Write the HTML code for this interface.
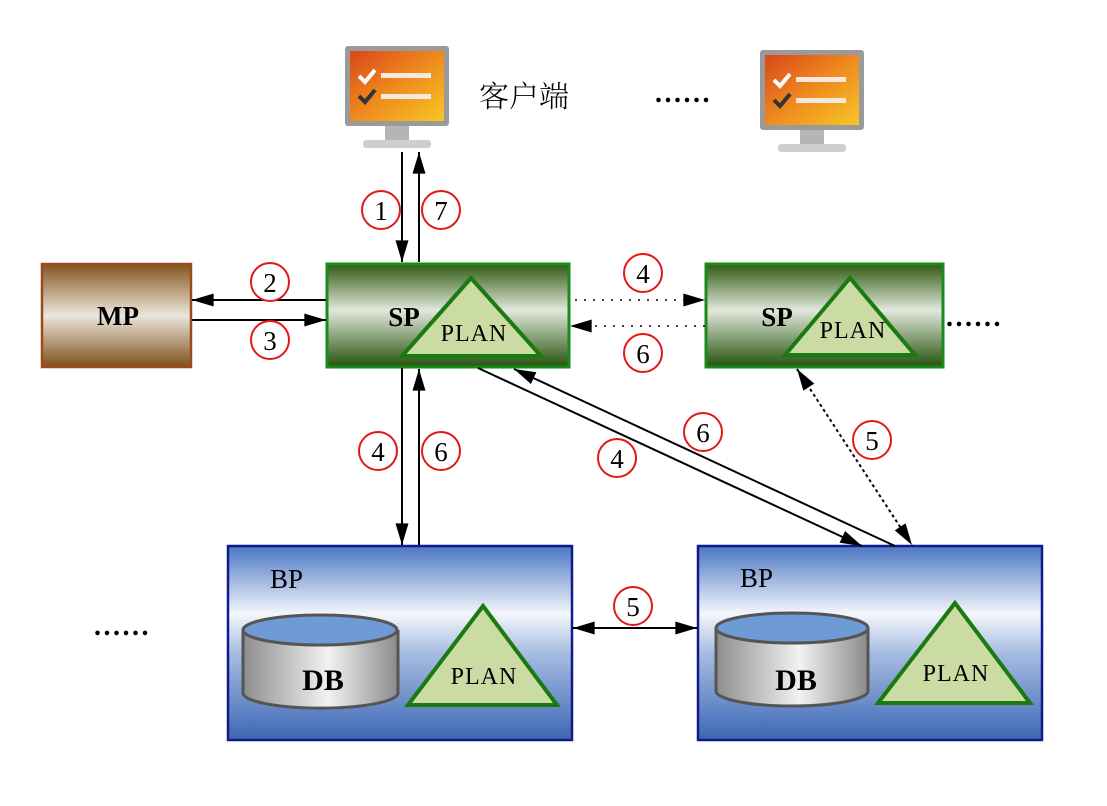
<!DOCTYPE html>
<html><head><meta charset="utf-8"><style>
html,body{margin:0;padding:0;background:#fff;}
svg{display:block;}
text{font-family:"Liberation Serif","Noto Serif CJK SC",serif;}
</style></head><body>
<svg width="1107" height="806" viewBox="0 0 1107 806" xmlns="http://www.w3.org/2000/svg">
<defs>
<linearGradient id="g" x1="0" y1="0" x2="0" y2="1">
<stop offset="0" stop-color="#2f5a12"/><stop offset="0.45" stop-color="#e2e8dc"/><stop offset="1" stop-color="#24520c"/></linearGradient>
<linearGradient id="b" x1="0" y1="0" x2="0" y2="1">
<stop offset="0" stop-color="#84541e"/><stop offset="0.5" stop-color="#ece6dc"/><stop offset="1" stop-color="#7e501a"/></linearGradient>
<linearGradient id="bl" x1="0" y1="0" x2="0" y2="1">
<stop offset="0" stop-color="#4b77c4"/><stop offset="0.35" stop-color="#f4f6fb"/><stop offset="0.55" stop-color="#a8bde2"/><stop offset="1" stop-color="#3c67b5"/></linearGradient>
<linearGradient id="cy" x1="0" y1="0" x2="1" y2="0">
<stop offset="0" stop-color="#8d8d8d"/><stop offset="0.55" stop-color="#f2f2f2"/><stop offset="1" stop-color="#8a8a8a"/></linearGradient>
<linearGradient id="scr" x1="0" y1="0" x2="1" y2="1">
<stop offset="0" stop-color="#d8471a"/><stop offset="0.5" stop-color="#ef8a1e"/><stop offset="1" stop-color="#f6c626"/></linearGradient>
<marker id="A" viewBox="0 0 20 12" refX="20" refY="6" markerWidth="22" markerHeight="13" markerUnits="userSpaceOnUse" orient="auto-start-reverse"><path d="M0,0 L20,6 L0,12 z" fill="#000"/></marker>
<g id="mon">
<rect x="0" y="0" width="104" height="80" fill="#9a9a9a" rx="3"/>
<rect x="5" y="5" width="94" height="70" fill="url(#scr)"/>
<path d="M14,30 l6,6 l10,-12" stroke="#fff" stroke-width="4" fill="none"/>
<rect x="36" y="27" width="50" height="5" fill="#f4e8e0"/>
<path d="M14,50 l6,6 l10,-12" stroke="#333" stroke-width="4" fill="none"/>
<rect x="36" y="48" width="50" height="5" fill="#f4e8e0"/>
<rect x="40" y="80" width="24" height="14" fill="#b5b5b5"/>
<rect x="18" y="94" width="68" height="8" fill="#cfcfcf" rx="3"/>
</g>
</defs>

<use href="#mon" x="345" y="46"/>
<use href="#mon" x="760" y="50"/>
<text x="479" y="107" font-size="30" font-family="'Noto Sans CJK SC',sans-serif" font-weight="300">客户端</text>
<text x="655" y="102" font-size="28" font-weight="bold" letter-spacing="2.5">......</text>
<text x="946" y="326" font-size="28" font-weight="bold" letter-spacing="2.5">......</text>
<text x="94" y="635" font-size="28" font-weight="bold" letter-spacing="2.5">......</text>

<!-- MP -->
<rect x="42" y="264" width="149" height="103" fill="url(#b)" stroke="#9b4a1c" stroke-width="2.5"/>
<text x="118" y="325" font-size="27" font-weight="bold" text-anchor="middle">MP</text>

<!-- SP1 -->
<rect x="327" y="264" width="242" height="103" fill="url(#g)" stroke="#1a8a1a" stroke-width="3"/>
<polygon points="471,278 402,356 541,356" fill="#cadba4" stroke="#1a7a10" stroke-width="4"/>
<text x="404" y="326" font-size="27" font-weight="bold" text-anchor="middle">SP</text>
<text x="474" y="341" font-size="24" text-anchor="middle" letter-spacing="1">PLAN</text>

<!-- SP2 -->
<rect x="706" y="264" width="237" height="103" fill="url(#g)" stroke="#1a8a1a" stroke-width="3"/>
<polygon points="850,278 785,355 915,355" fill="#cadba4" stroke="#1a7a10" stroke-width="4"/>
<text x="777" y="326" font-size="27" font-weight="bold" text-anchor="middle">SP</text>
<text x="853" y="338" font-size="24" text-anchor="middle" letter-spacing="1">PLAN</text>

<!-- BP1 -->
<rect x="228" y="546" width="344" height="194" fill="url(#bl)" stroke="#101a8a" stroke-width="2.5"/>
<text x="270" y="588" font-size="27">BP</text>
<path d="M243,630 v63 a77,15 0 0 0 155,0 v-63" fill="url(#cy)" stroke="#555" stroke-width="3"/>
<ellipse cx="320" cy="630" rx="77" ry="15" fill="#6e9bd6" stroke="#555" stroke-width="3"/>
<text x="323" y="690" font-size="30" font-weight="bold" text-anchor="middle">DB</text>
<polygon points="483,606 408,705 557,705" fill="#cadba4" stroke="#1a7a10" stroke-width="4"/>
<text x="484" y="684" font-size="24" text-anchor="middle" letter-spacing="1">PLAN</text>

<!-- BP2 -->
<rect x="698" y="546" width="344" height="194" fill="url(#bl)" stroke="#101a8a" stroke-width="2.5"/>
<text x="740" y="587" font-size="27">BP</text>
<path d="M716,628 v63 a76,15 0 0 0 152,0 v-63" fill="url(#cy)" stroke="#555" stroke-width="3"/>
<ellipse cx="792" cy="628" rx="76" ry="15" fill="#6e9bd6" stroke="#555" stroke-width="3"/>
<text x="796" y="690" font-size="30" font-weight="bold" text-anchor="middle">DB</text>
<polygon points="955,603 878,703 1030,703" fill="#cadba4" stroke="#1a7a10" stroke-width="4"/>
<text x="956" y="681" font-size="24" text-anchor="middle" letter-spacing="1">PLAN</text>

<!-- arrows -->
<g stroke="#000" stroke-width="2" fill="none">
<line x1="402" y1="152" x2="402" y2="262" marker-end="url(#A)"/>
<line x1="419" y1="262" x2="419" y2="152" marker-end="url(#A)"/>
<line x1="326" y1="300" x2="192" y2="300" marker-end="url(#A)"/>
<line x1="192" y1="320" x2="326" y2="320" marker-end="url(#A)"/>
<line x1="402" y1="368" x2="402" y2="545" marker-end="url(#A)"/>
<line x1="419" y1="545" x2="419" y2="369" marker-end="url(#A)"/>
<line x1="478" y1="368" x2="862" y2="546" marker-end="url(#A)"/>
<line x1="895" y1="546" x2="514" y2="369" marker-end="url(#A)"/>
<line x1="573" y1="628" x2="697" y2="628" marker-start="url(#A)" marker-end="url(#A)"/>
<line x1="575" y1="300" x2="705" y2="300" stroke-dasharray="2,7" stroke-width="1.5" marker-end="url(#A)"/>
<line x1="705" y1="326" x2="570" y2="326" stroke-dasharray="2,7" stroke-width="1.5" marker-end="url(#A)"/>
<line x1="797" y1="369" x2="912" y2="545" stroke-dasharray="3,3" marker-start="url(#A)" marker-end="url(#A)"/>
</g>

<!-- circles -->
<g fill="#fff" stroke="#e21818" stroke-width="2">
<circle cx="381" cy="210" r="19"/><circle cx="441" cy="210" r="19"/>
<circle cx="270" cy="282" r="19"/><circle cx="270" cy="340" r="19"/>
<circle cx="643" cy="273" r="19"/><circle cx="643" cy="353" r="19"/>
<circle cx="378" cy="451" r="19"/><circle cx="441" cy="451" r="19"/>
<circle cx="703" cy="432" r="19"/><circle cx="617" cy="458" r="19"/>
<circle cx="872" cy="440" r="19"/><circle cx="633" cy="606" r="19"/>
</g>
<g font-size="27" text-anchor="middle">
<text x="381" y="220">1</text><text x="441" y="220">7</text>
<text x="270" y="292">2</text><text x="270" y="350">3</text>
<text x="643" y="283">4</text><text x="643" y="363">6</text>
<text x="378" y="461">4</text><text x="441" y="461">6</text>
<text x="703" y="442">6</text><text x="617" y="468">4</text>
<text x="872" y="450">5</text><text x="633" y="616">5</text>
</g>
</svg>
</body></html>
